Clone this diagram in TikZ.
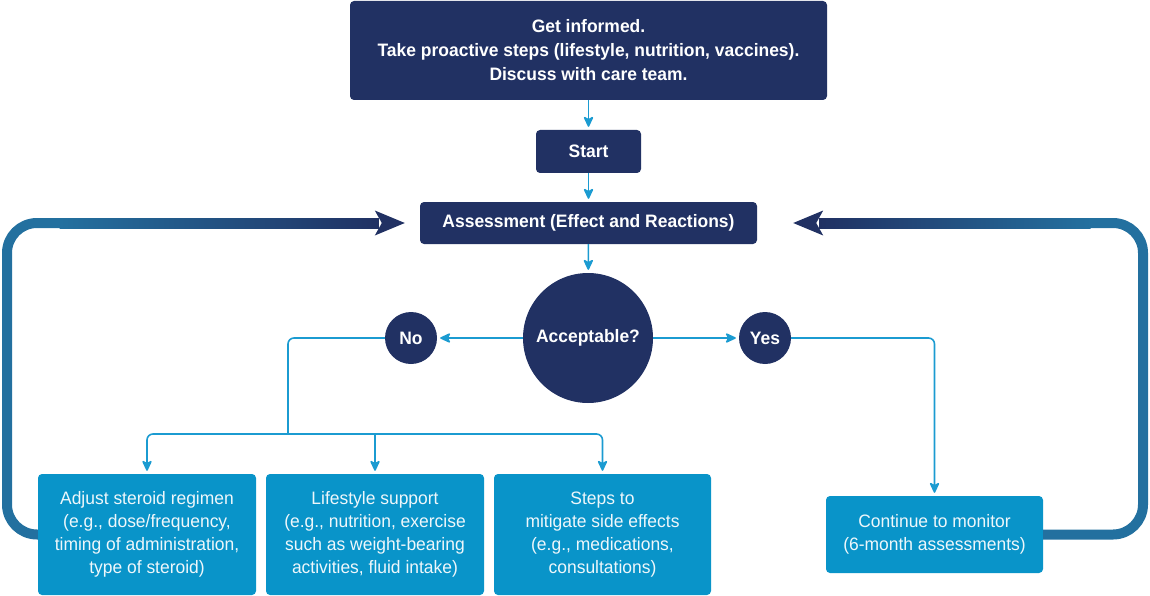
\documentclass[tikz,border=0pt]{standalone}
\usepackage{fontspec}
\setmainfont[FakeStretch=0.97]{Liberation Sans}
\usetikzlibrary{arrows.meta,calc}
\definecolor{navy}{HTML}{213163}
\definecolor{lblue}{HTML}{0994C9}
\definecolor{connc}{HTML}{1B9BD1}
\definecolor{loopb}{HTML}{23709F}
\definecolor{loopm}{HTML}{44578A}
\definecolor{ltext}{HTML}{EEF7FB}
\begin{document}
\begin{tikzpicture}[x=1pt,y=-1pt,
  darkbox/.style={fill=navy, text=white, rounded corners=4pt, align=center, inner sep=0pt,
    font=\bfseries\fontsize{18}{24}\selectfont},
  darkcirc/.style={circle, fill=navy, text=white, inner sep=0pt, align=center,
    font=\bfseries\fontsize{18}{24}\selectfont},
  lightbox/.style={fill=lblue, text=ltext, rounded corners=4pt, align=center, inner sep=0pt,
    minimum height=121pt, font=\fontsize{18}{23}\selectfont},
  arr/.style={draw=connc, line width=1.6pt, rounded corners=6pt, shorten >=3pt,
    -{Stealth[length=12pt,width=11pt,inset=3pt,round=false]}},
  plain/.style={draw=connc, line width=1.6pt, rounded corners=6pt},
  bigloop/.style={draw=loopb, line width=10pt, rounded corners=30pt}
]
\useasboundingbox (0,0) rectangle (1150,596);

% nodes
\node[darkbox, minimum width=477pt, minimum height=99pt] (top) at (588.5,50.5)
  {Get informed.\\Take proactive steps (lifestyle, nutrition, vaccines).\\Discuss with care team.};
\node[darkbox, minimum width=105pt, minimum height=43pt] (start) at (588.5,151.5) {Start};
\node[darkbox, minimum width=337pt, minimum height=42pt] (assess) at (588.5,223) {Assessment (Effect and Reactions)};
\node[darkcirc, minimum size=130pt] (acc) at (588,338) {Acceptable?};
\node[darkcirc, minimum size=52pt] (no) at (411,338) {No};
\node[darkcirc, minimum size=52pt] (yes) at (765,338) {Yes};
\node[lightbox, minimum width=218pt] (box1) at (147,534.5)
  {Adjust steroid regimen\\(e.g., dose/frequency,\\timing of administration,\\type of steroid)};
\node[lightbox, minimum width=218pt] (box2) at (375,534.5)
  {Lifestyle support\\(e.g., nutrition, exercise\\such as weight-bearing\\activities, fluid intake)};
\node[lightbox, minimum width=217pt] (box3) at (602.5,534.5)
  {Steps to\\mitigate side effects\\(e.g., medications,\\consultations)};
\node[lightbox, minimum width=217pt, minimum height=77pt] (mon) at (934.5,534.5)
  {Continue to monitor\\(6-month assessments)};

% main connectors
\draw[arr] (top) -- (start);
\draw[arr] (start) -- (assess);
\draw[arr] (assess) -- (acc);
\draw[arr] (acc) -- (no);
\draw[arr] (acc) -- (yes);

\coordinate (nj) at (288,434);
\draw[plain] (no.west) -| (nj);
\draw[arr] (nj) -| (box1.north);
\draw[arr] (nj) -| (box3.north);
\draw[arr] (box2.north |- nj) -- (box2.north);
\draw[arr] (yes.east) -| (mon.north);

% feedback loops
\coordinate (Ltip) at ($(assess.west)+(-15,0)$);
\coordinate (Rtip) at ($(assess.east)+(36,0)$);
\draw[bigloop] (box1.west) -| (7,223) -- (60,223);
\shade[left color=loopb, middle color=loopm, right color=navy] (59.5,218) rectangle ($(Ltip)+(-26,5)$);
\fill[navy] (Ltip) -- ++(-30,-12.5) -- ++(7,12.5) -- ++(-7,12.5) -- cycle;

\draw[bigloop] (mon.east) -| (1143,223) -- (1090,223);
\shade[left color=navy, middle color=loopm, right color=loopb] ($(Rtip)+(26,-5)$) rectangle (1090.5,228);
\fill[navy] (Rtip) -- ++(30,-12.5) -- ++(-7,12.5) -- ++(7,12.5) -- cycle;
\end{tikzpicture}
\end{document}
